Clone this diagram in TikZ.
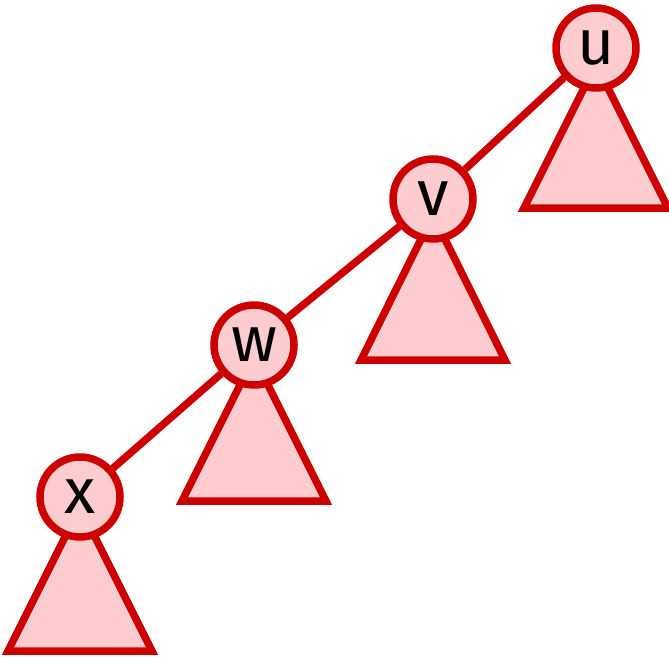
\documentclass[tikz,border=0pt]{standalone}
\usepackage{fontspec}
\setmainfont{Fira Sans}
\usetikzlibrary{calc,backgrounds}
\definecolor{treered}{RGB}{204,0,0}
\definecolor{treepink}{RGB}{253,204,207}
\begin{document}
\begin{tikzpicture}[x=1pt,y=-1pt,
  keynode/.style={circle, draw=treered, fill=treepink, line width=7.5pt,
    minimum size=80pt, inner sep=0pt, font=\fontsize{64}{64}\selectfont},
  subtree/.style={draw=treered, fill=treepink, line width=7.5pt, line join=miter},
  link/.style={draw=treered, line width=7.5pt}]
\useasboundingbox (0,0) rectangle (669,656);

% keys along the left spine
\node[keynode] (u) at (596,48)  {u};
\node[keynode] (v) at (433,199) {v};
\node[keynode] (w) at (254,345) {w};
\node[keynode] (x) at (80,497)  {x};

\begin{pgfonlayer}{background}
  % hanging subtrees
  \path[subtree] ($(u.center)+(0,16)$) -- ($(u.center)+(-72,160)$) -- ($(u.center)+(72,160)$) -- cycle;
  \path[subtree] ($(v.center)+(0,16)$) -- ($(v.center)+(-72,161)$) -- ($(v.center)+(72,161)$) -- cycle;
  \path[subtree] ($(w.center)+(0,12)$) -- ($(w.center)+(-72,156)$) -- ($(w.center)+(72,156)$) -- cycle;
  \path[subtree] ($(x.center)+(0,10)$) -- ($(x.center)+(-72,154)$) -- ($(x.center)+(72,154)$) -- cycle;
  % spine edges
  \draw[link] (u) -- (v);
  \draw[link] (v) -- (w);
  \draw[link] (w) -- (x);
\end{pgfonlayer}
\end{tikzpicture}
\end{document}
